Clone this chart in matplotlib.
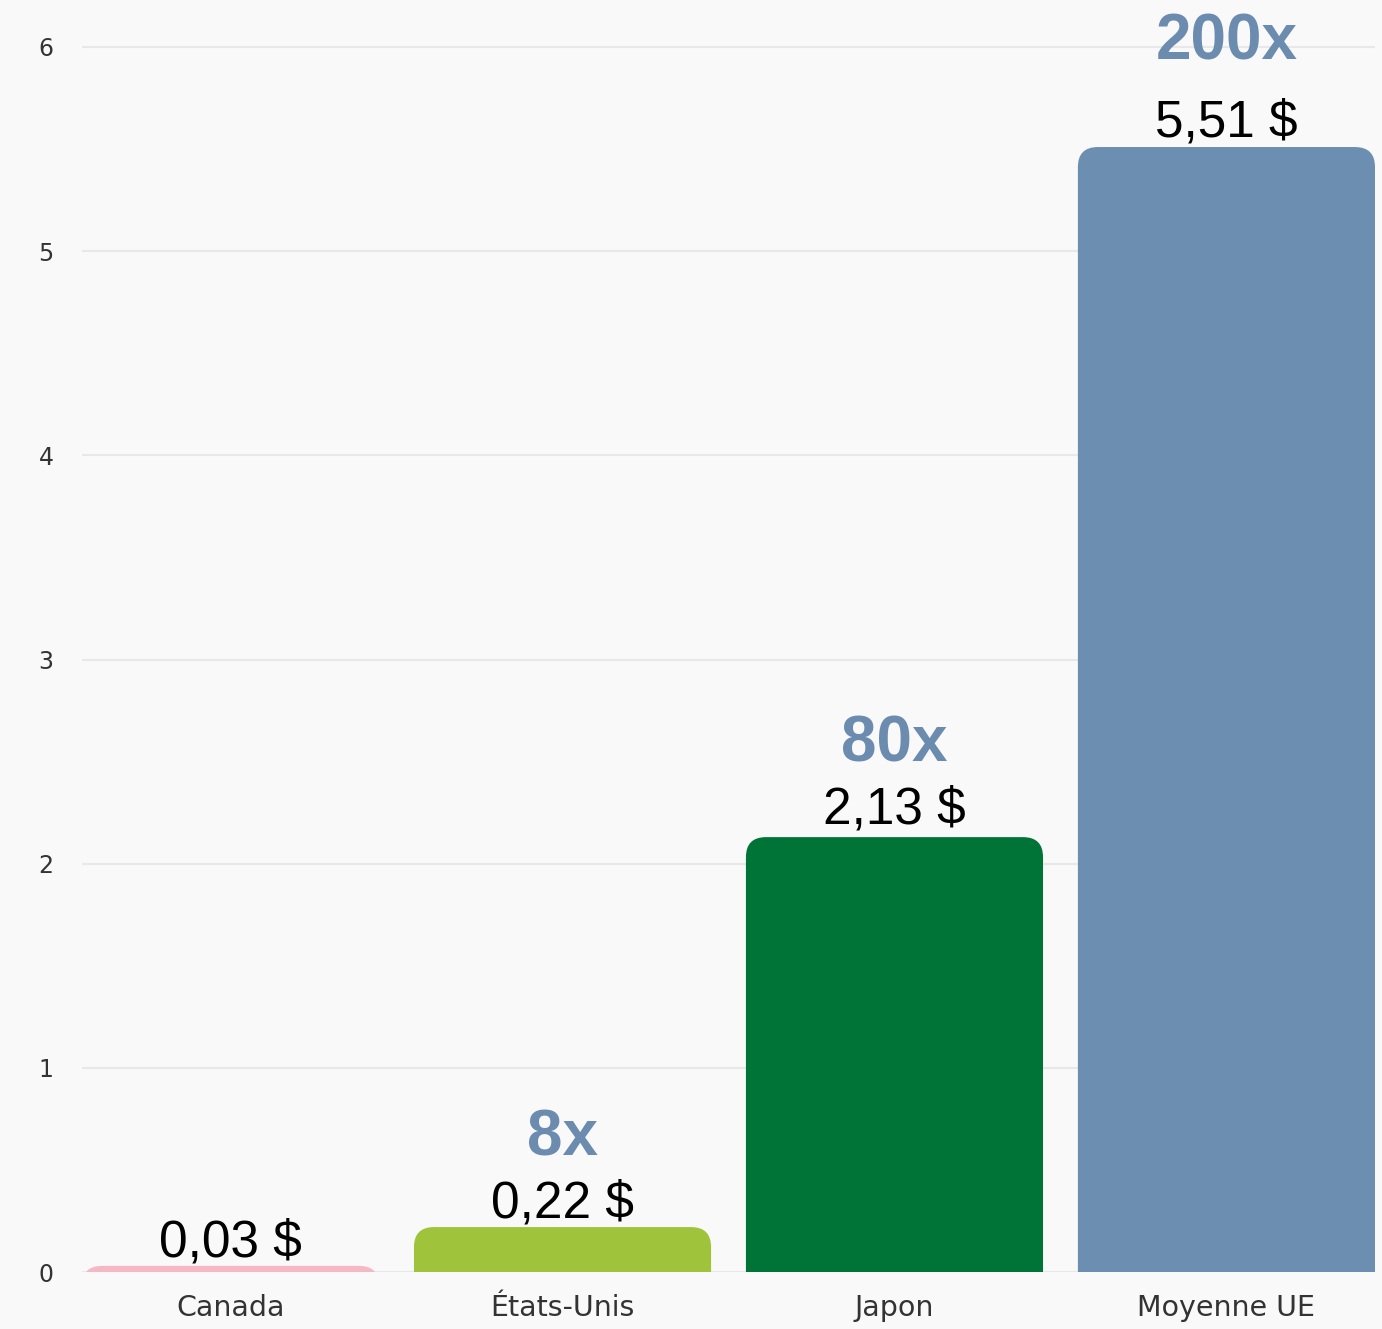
import matplotlib
matplotlib.use("Agg")
import matplotlib.pyplot as plt
from matplotlib.patches import FancyBboxPatch

categories = ["Canada", "États-Unis", "Japon", "Moyenne UE"]
values = [0.03, 0.22, 2.13, 5.51]
value_labels = ["0,03 $", "0,22 $", "2,13 $", "5,51 $"]
multipliers = ["", "8x", "80x", "200x"]
yticks = [0, 1, 2, 3, 4, 5, 6]

colors = ["#f5b8c4", "#9fc43c", "#007436", "#6c8eb0"]
mult_color = "#6b8caf"
value_offsets_px = [9, 10, 14, 11]
mult_gaps_px = [62, 62, 62, 77]
bg = "#f9f9f9"

W, H = 1382, 1329
fig = plt.figure(figsize=(W / 100, H / 100), dpi=100, facecolor=bg)
left, right = 82 / W, 1375 / W
bottom = 1 - 1272 / H
unit = (1272 - 47) / 6.0
ymax = 6.2
top_px = 1272 - ymax * unit
ax = fig.add_axes([left, bottom, right - left, (1272 - top_px) / H])
ax.set_facecolor(bg)

x = list(range(len(categories)))
width = 0.895
bars = ax.bar(x, values, width=width, color=colors, zorder=2)
ax.set_xlim(-width / 2, len(categories) - 1 + width / 2)
ax.set_ylim(0, ymax)

# pixel scales
xunit = (1375 - 82) / (len(categories) - 1 + width)
radius_px = 20
rs = radius_px / xunit
aspect = xunit / unit
for b, c in zip(bars, colors):
    b.set_visible(False)
    ext = 0.3
    p = FancyBboxPatch((b.get_x() + rs, -ext + rs * aspect),
                       b.get_width() - 2 * rs, b.get_height() + ext - 2 * rs * aspect,
                       boxstyle=f"round,pad={rs},rounding_size={rs}",
                       mutation_aspect=aspect, facecolor=c, edgecolor="none",
                       zorder=2, clip_on=True)
    ax.add_patch(p)

px2pt = 0.72
for i, (v, lab, m) in enumerate(zip(values, value_labels, multipliers)):
    ax.annotate(lab, (i, v), xytext=(0, value_offsets_px[i] * px2pt),
                textcoords="offset points",
                ha="center", va="baseline", fontsize=37, color="black",
                family="Liberation Sans", annotation_clip=False, zorder=3)
    if m:
        ax.annotate(m, (i, v),
                    xytext=(0, (value_offsets_px[i] + mult_gaps_px[i]) * px2pt),
                    textcoords="offset points", ha="center", va="baseline",
                    fontsize=46, fontweight="bold", color=mult_color,
                    family="Liberation Sans", annotation_clip=False, zorder=3)

ax.set_yticks(yticks)
ax.set_yticklabels([str(t) for t in yticks])
ax.set_xticks(x)
ax.set_xticklabels(categories)
ax.grid(axis="y", color="#e8e8e8", linewidth=1.5, zorder=0)
ax.set_axisbelow(True)
for s in ax.spines.values():
    s.set_visible(False)
ax.tick_params(axis="y", length=0, pad=26, labelsize=17, labelcolor="#333333")
for lbl in ax.get_yticklabels():
    lbl.set_horizontalalignment("center")
ax.tick_params(axis="x", length=0, pad=16, labelsize=20.5, labelcolor="#333333")

fig.savefig("out.png", dpi=100, facecolor=bg)
